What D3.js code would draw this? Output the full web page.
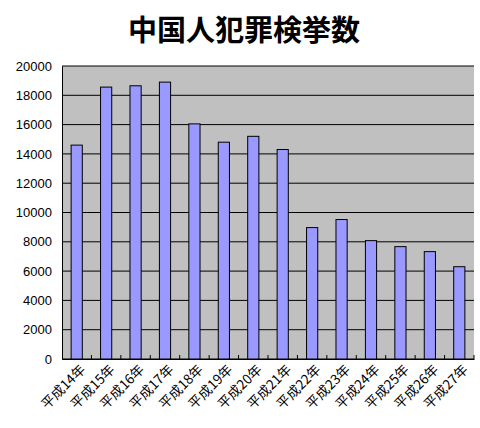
<!DOCTYPE html>
<html><head><meta charset="utf-8">
<script src="https://cdn.jsdelivr.net/npm/d3@7"></script>
<style>body{margin:0;background:#fff}</style>
</head><body><div id="chart"></div>
<script>
const years = ['平成14年','平成15年','平成16年','平成17年','平成18年','平成19年','平成20年','平成21年','平成22年','平成23年','平成24年','平成25年','平成26年','平成27年'];
const arrests = [14600, 18560, 18650, 18900, 16050, 14800, 15200, 14300, 8970, 9520, 8080, 7670, 7330, 6300];
const yTicks = [0, 2000, 4000, 6000, 8000, 10000, 12000, 14000, 16000, 18000, 20000];

const w = 480, h = 428;
const margin = { top: 66, right: 6, bottom: 69, left: 62 };

const svg = d3.select('#chart').append('svg')
  .attr('width', w).attr('height', h);

svg.append('text')
  .attr('x', 244).attr('y', 41)
  .attr('text-anchor', 'middle')
  .attr('font-family', 'Noto Sans CJK JP')
  .attr('font-size', 29).attr('font-weight', 'bold')
  .text('中国人犯罪検挙数');

const x = d3.scaleBand().domain(years)
  .range([margin.left, w - margin.right]).paddingInner(0.62).paddingOuter(0.31);
const y = d3.scaleLinear().domain([0, 20000])
  .range([h - margin.bottom, margin.top]);

// plot area
svg.append('rect')
  .attr('x', margin.left).attr('y', margin.top)
  .attr('width', w - margin.left - margin.right)
  .attr('height', h - margin.top - margin.bottom)
  .attr('fill', '#c0c0c0');

// gridlines
svg.append('g').selectAll('line').data(yTicks).join('line')
  .attr('x1', margin.left).attr('x2', w - margin.right)
  .attr('y1', d => y(d)).attr('y2', d => y(d))
  .attr('stroke', '#000').attr('stroke-width', 1);

// bars
svg.append('g').selectAll('rect').data(arrests).join('rect')
  .attr('x', (d, i) => x(years[i]))
  .attr('y', d => y(d))
  .attr('width', x.bandwidth())
  .attr('height', d => y(0) - y(d))
  .attr('fill', '#9999ff').attr('stroke', '#000').attr('stroke-width', 1);

// y axis
const yAxis = svg.append('g')
  .attr('transform', `translate(${margin.left},0)`)
  .call(d3.axisLeft(y).tickValues(yTicks).tickSize(0).tickPadding(10).tickFormat(d3.format('d')));
yAxis.select('.domain').attr('stroke', '#000');
yAxis.selectAll('text').attr('font-family', 'Liberation Sans').attr('font-size', 13).attr('fill', '#000');

// x axis
const xAxis = svg.append('g')
  .attr('transform', `translate(0,${h - margin.bottom})`)
  .call(d3.axisBottom(x.copy().paddingInner(0).paddingOuter(0)).tickSize(0).tickSizeOuter(0));
xAxis.select('.domain').attr('stroke', '#000');
xAxis.selectAll('.tick').append('line')
  .attr('x1', x.step() / 2).attr('x2', x.step() / 2).attr('y1', -4).attr('y2', 0).attr('stroke', '#000');
xAxis.selectAll('text')
  .attr('font-family', 'Noto Sans CJK JP').attr('font-size', 13.5).attr('fill', '#000')
  .attr('text-anchor', 'end')
  .attr('transform', 'translate(4,6) rotate(-45)')
  .attr('dy', '0.35em');
</script>
</body></html>
